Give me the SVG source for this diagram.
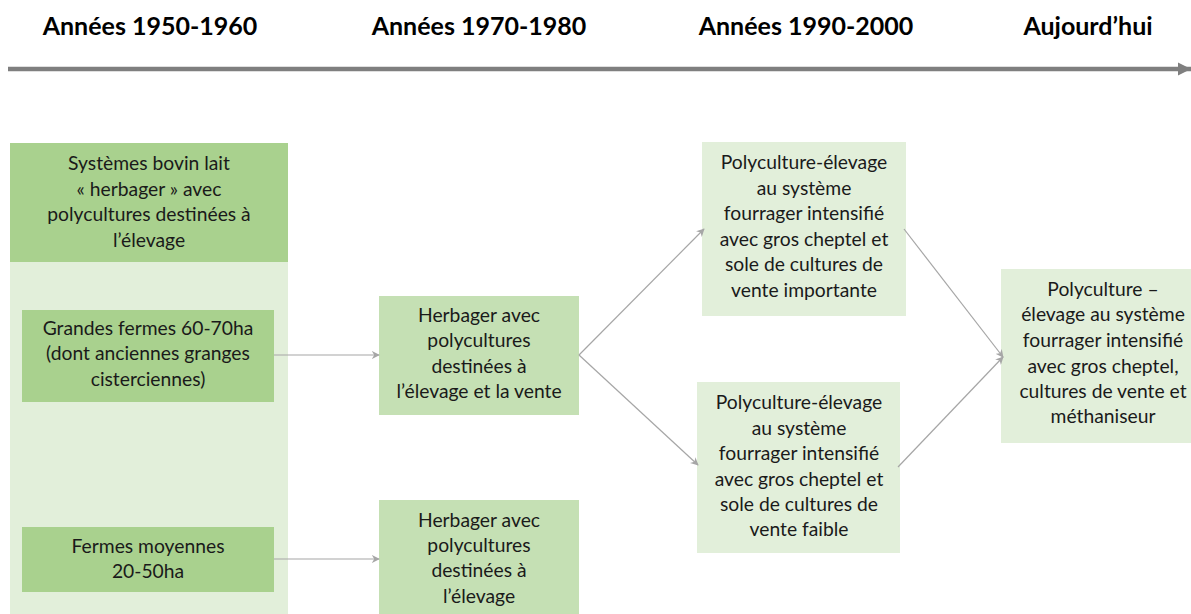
<svg xmlns="http://www.w3.org/2000/svg" width="1191" height="614" viewBox="0 0 1191 614">
<style>
.h{font-family:Lato,"Liberation Sans",sans-serif;font-weight:bold;font-size:25px;fill:#000;text-anchor:middle}
.t{font-family:Lato,"Liberation Sans",sans-serif;font-size:19.3px;fill:#1a1a1a;text-anchor:middle}
.c{stroke:#a6a6a6;stroke-width:1.2;fill:none;marker-end:url(#ah)}
.dk{fill:#a9d18e}
.md{fill:#c5e0b4}
.lt{fill:#e2efda}
</style>
<defs>
<marker id="ah" viewBox="0 0 10 10" refX="9" refY="5" markerWidth="8" markerHeight="8" markerUnits="userSpaceOnUse" orient="auto">
<path d="M0,0 L10,5 L0,10 L3,5 Z" fill="#a6a6a6"/>
</marker>
<marker id="big" viewBox="0 0 10 10" refX="10" refY="5" markerWidth="3" markerHeight="3" orient="auto">
<path d="M0,0 L10,5 L0,10 Z" fill="#7f7f7f"/>
</marker>
</defs>
<rect width="1191" height="614" fill="#fff"/>
<g id="timeline">
<text class="h" x="150" y="35">Années 1950-1960</text>
<text class="h" x="479" y="35">Années 1970-1980</text>
<text class="h" x="806" y="35">Années 1990-2000</text>
<text class="h" x="1088" y="35">Aujourd’hui</text>
<line x1="8" y1="69" x2="1191" y2="69" stroke="#7f7f7f" stroke-width="4.5" marker-end="url(#big)"/>
</g>
<g id="col1">
<rect class="lt" x="10" y="143" width="278" height="471"/>
<rect class="dk" x="10" y="143" width="278" height="119"/>
<text class="t"><tspan x="149" y="170">Systèmes bovin lait</tspan><tspan x="149" y="196">« herbager » avec</tspan><tspan x="149" y="221">polycultures destinées à</tspan><tspan x="149" y="247">l’élevage</tspan></text>
</g>
<g id="grandes">
<rect class="dk" x="22" y="310" width="252" height="92"/>
<text class="t"><tspan x="148" y="335">Grandes fermes 60-70ha</tspan><tspan x="148" y="360">(dont anciennes granges</tspan><tspan x="148" y="386">cisterciennes)</tspan></text>
</g>
<g id="moyennes">
<rect class="dk" x="22" y="527" width="252" height="65"/>
<text class="t"><tspan x="148" y="553">Fermes moyennes</tspan><tspan x="148" y="578">20-50ha</tspan></text>
</g>
<g id="herb1">
<rect class="md" x="379" y="296" width="200" height="119"/>
<text class="t"><tspan x="479" y="322">Herbager avec</tspan><tspan x="479" y="347">polycultures</tspan><tspan x="479" y="373">destinées à</tspan><tspan x="479" y="398">l’élevage et la vente</tspan></text>
</g>
<g id="herb2">
<rect class="md" x="379" y="500" width="200" height="114"/>
<text class="t"><tspan x="479" y="527">Herbager avec</tspan><tspan x="479" y="552">polycultures</tspan><tspan x="479" y="577">destinées à</tspan><tspan x="479" y="603">l’élevage</tspan></text>
</g>
<g id="polyA">
<rect class="lt" x="702" y="142" width="204" height="174"/>
<text class="t"><tspan x="804" y="169">Polyculture-élevage</tspan><tspan x="804" y="195">au système</tspan><tspan x="804" y="220">fourrager intensifié</tspan><tspan x="804" y="246">avec gros cheptel et</tspan><tspan x="804" y="271">sole de cultures de</tspan><tspan x="804" y="297">vente importante</tspan></text>
</g>
<g id="polyB">
<rect class="lt" x="697" y="382" width="203" height="171"/>
<text class="t"><tspan x="799" y="409">Polyculture-élevage</tspan><tspan x="799" y="435">au système</tspan><tspan x="799" y="460">fourrager intensifié</tspan><tspan x="799" y="486">avec gros cheptel et</tspan><tspan x="799" y="511">sole de cultures de</tspan><tspan x="799" y="536">vente faible</tspan></text>
</g>
<g id="polyC">
<rect class="lt" x="1001" y="269" width="190" height="174"/>
<text class="t"><tspan x="1103" y="296">Polyculture –</tspan><tspan x="1103" y="321">élevage au système</tspan><tspan x="1103" y="347">fourrager intensifié</tspan><tspan x="1103" y="373">avec gros cheptel,</tspan><tspan x="1103" y="398">cultures de vente et</tspan><tspan x="1103" y="423">méthaniseur</tspan></text>
</g>
<g id="connectors">
<line class="c" x1="274" y1="355" x2="379" y2="355"/>
<line class="c" x1="274" y1="559" x2="379" y2="559"/>
<line class="c" x1="579" y1="355" x2="704" y2="229"/>
<line class="c" x1="579" y1="355" x2="698" y2="465"/>
<line class="c" x1="904" y1="229" x2="1003" y2="357"/>
<line class="c" x1="898" y1="467" x2="1003" y2="357"/>
</g>
</svg>
